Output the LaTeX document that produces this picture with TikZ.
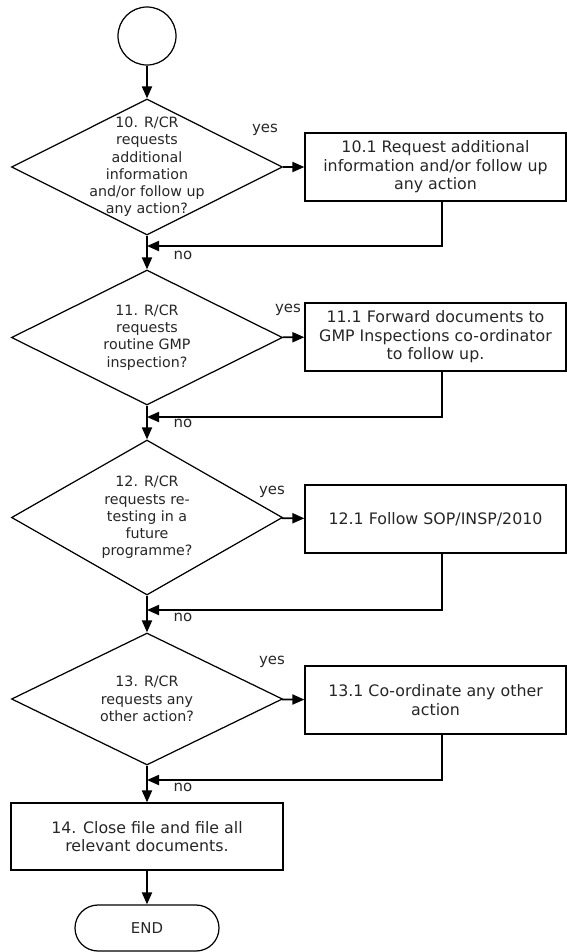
\documentclass[tikz,border=0pt]{standalone}
\usepackage{fontspec}
\setmainfont{DejaVu Sans}
\usetikzlibrary{shapes.geometric, arrows.meta, calc}

\begin{document}
\begin{tikzpicture}[start/.style = {draw, circle, line width=0.7pt, minimum size=1.16cm, inner sep=0pt},
    decision/.style = {draw, diamond, line width=0.7pt, minimum width=5.42cm, inner sep=0pt},
    dtext/.style = {align=center, text=black!85, font=\fontsize{8.1}{9.8}\selectfont},
    process/.style = {draw, rectangle, line width=0.7pt, align=center, inner sep=0pt,
      text=black!85, font=\fontsize{9}{10.5}\selectfont},
    term/.style = {draw, rectangle, rounded corners=0.46cm, line width=0.7pt, minimum width=2.88cm,
      minimum height=0.92cm, text=black!85, font=\fontsize{8.5}{10}\selectfont},
    lbl/.style = {inner sep=0pt, text=black!85, font=\fontsize{8.5}{10}\selectfont},
    flow/.style = {line width=1.1pt, -{Triangle[length=2.4mm, width=2mm]}}]
      \useasboundingbox (0,0) rectangle (11.34,-19.04);
      \node [start] (s) at (2.94, -0.72) {};
      \node [decision, minimum height=2.72cm,
        label={[dtext]center:{10. R/CR\\requests\\additional\\information\\and/or follow up\\any action?}}] (d10) at (2.94, -3.34) {};
      \node [decision, minimum height=2.7cm,
        label={[dtext]center:{11. R/CR\\requests\\routine GMP\\inspection?}}] (d11) at (2.94, -6.75) {};
      \node [decision, minimum height=3.1cm,
        label={[dtext]center:{12. R/CR\\requests re-\\testing in a\\future\\programme?}}] (d12) at (2.94, -10.35) {};
      \node [decision, minimum height=2.64cm,
        label={[dtext]center:{13. R/CR\\requests any\\other action?}}] (d13) at (2.94, -13.98) {};
      \node [process, minimum width=5.22cm, minimum height=1.36cm] (b10) at (8.71, -3.34)
        {10.1 Request additional\\information and/or follow up\\any action};
      \node [process, minimum width=5.22cm, minimum height=1.36cm] (b11) at (8.71, -6.74)
        {11.1 Forward documents to\\GMP Inspections co-ordinator\\to follow up.};
      \node [process, minimum width=5.22cm, minimum height=1.36cm] (b12) at (8.71, -10.38)
        {12.1 Follow SOP/INSP/2010};
      \node [process, minimum width=5.22cm, minimum height=1.36cm] (b13) at (8.71, -14.0)
        {13.1 Co-ordinate any other\\action};
      \node [process, minimum width=5.44cm, minimum height=1.34cm] (b14) at (2.94, -16.73)
        {14. Close file and file all\\relevant documents.};
      \node [term] (fin) at (2.94, -18.56) {END};

      \coordinate (j10) at (2.94, -4.92);
      \coordinate (j11) at (2.94, -8.34);
      \coordinate (j12) at (2.94, -12.2);
      \coordinate (j13) at (2.94, -15.6);

      \node [lbl] (y10) at (5.3, -2.6) {yes};
      \node [lbl] (y11) at (5.76, -6.2) {yes};
      \node [lbl] (y12) at (5.44, -9.84) {yes};
      \node [lbl] (y13) at (5.44, -13.24) {yes};
      \node [lbl] (n10) at (3.66, -5.1) {no};
      \node [lbl] (n11) at (3.66, -8.46) {no};
      \node [lbl] (n12) at (3.66, -12.34) {no};
      \node [lbl] (n13) at (3.66, -15.74) {no};

      \foreach \a/\b in {s/d10, d10/d11, d11/d12, d12/d13, d13/b14, b14/fin}
               {
                 \draw [flow] (\a) -- (\b);
               }
      \foreach \n in {10, 11, 12, 13}
               {
                 \draw [flow] (d\n) -- (b\n);
                 \draw [flow] ([xshift=.13cm]b\n.south) |- (j\n);
               }
    \end{tikzpicture}
\end{document}
